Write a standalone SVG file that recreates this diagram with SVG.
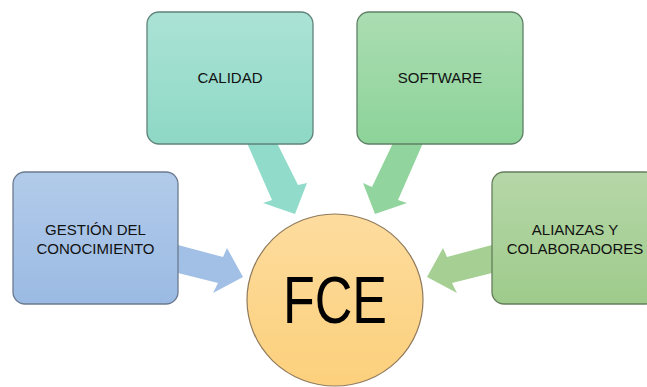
<svg xmlns="http://www.w3.org/2000/svg" width="647" height="387" viewBox="0 0 647 387">
<defs>
<linearGradient id="gBlue" x1="0" y1="0" x2="0" y2="1"><stop offset="0" stop-color="#b2cbea"/><stop offset="1" stop-color="#9bbae3"/></linearGradient>
<linearGradient id="gTeal" x1="0" y1="0" x2="0" y2="1"><stop offset="0" stop-color="#abe3d6"/><stop offset="1" stop-color="#8ed8c5"/></linearGradient>
<linearGradient id="gGreen" x1="0" y1="0" x2="0" y2="1"><stop offset="0" stop-color="#abddb2"/><stop offset="1" stop-color="#8dd399"/></linearGradient>
<linearGradient id="gOlive" x1="0" y1="0" x2="0" y2="1"><stop offset="0" stop-color="#b6d7a8"/><stop offset="1" stop-color="#9ecb8b"/></linearGradient>
<linearGradient id="gOrange" x1="0" y1="0" x2="0" y2="1"><stop offset="0" stop-color="#fddc9e"/><stop offset="1" stop-color="#fcd07c"/></linearGradient>
</defs>
<style>
.box{stroke-width:1.3}
.lbl{font-family:"Liberation Sans",Arial,sans-serif;font-size:15px;fill:#111;text-anchor:middle}
.big{font-family:"Liberation Sans",Arial,sans-serif;font-size:66px;fill:#000;text-anchor:middle}
</style>
<g id="connectors">
<polygon points="178,245 223,257 227,248 243,277 213,293 218,283 178,273" fill="#a2c0e6"/>
<polygon points="247,143 277,143 298,185 307,183 295,214 263,203 272,200" fill="#91dbca"/>
<polygon points="423,143 393,143 372,187 363,183 375,214 407,203 398,200" fill="#91d49e"/>
<polygon points="492,245 447,257 443,248 427,277 457,293 452,283 492,273" fill="#a5cf93"/>
</g>
<g id="gestion">
<rect class="box" x="13" y="172" width="165" height="132" rx="12" fill="url(#gBlue)" stroke="#6b7b90"/>
<text class="lbl" x="95.5" y="235">GESTIÓN DEL</text>
<text class="lbl" x="95.5" y="254">CONOCIMIENTO</text>
</g>
<g id="calidad">
<rect class="box" x="147" y="12" width="166" height="132" rx="12" fill="url(#gTeal)" stroke="#5f8379"/>
<text class="lbl" x="230" y="83">CALIDAD</text>
</g>
<g id="software">
<rect class="box" x="357" y="12" width="166" height="132" rx="12" fill="url(#gGreen)" stroke="#5f8065"/>
<text class="lbl" x="440" y="83">SOFTWARE</text>
</g>
<g id="alianzas">
<rect class="box" x="492" y="172" width="166" height="132" rx="12" fill="url(#gOlive)" stroke="#667d5c"/>
<text class="lbl" x="575" y="235">ALIANZAS Y</text>
<text class="lbl" x="575" y="254">COLABORADORES</text>
</g>
<g id="fce">
<ellipse cx="335" cy="300" rx="88" ry="86" fill="url(#gOrange)" stroke="#8f7a5c" stroke-width="1.2"/>
<text class="big" x="335" y="323" textLength="104" lengthAdjust="spacingAndGlyphs">FCE</text>
</g>
</svg>
